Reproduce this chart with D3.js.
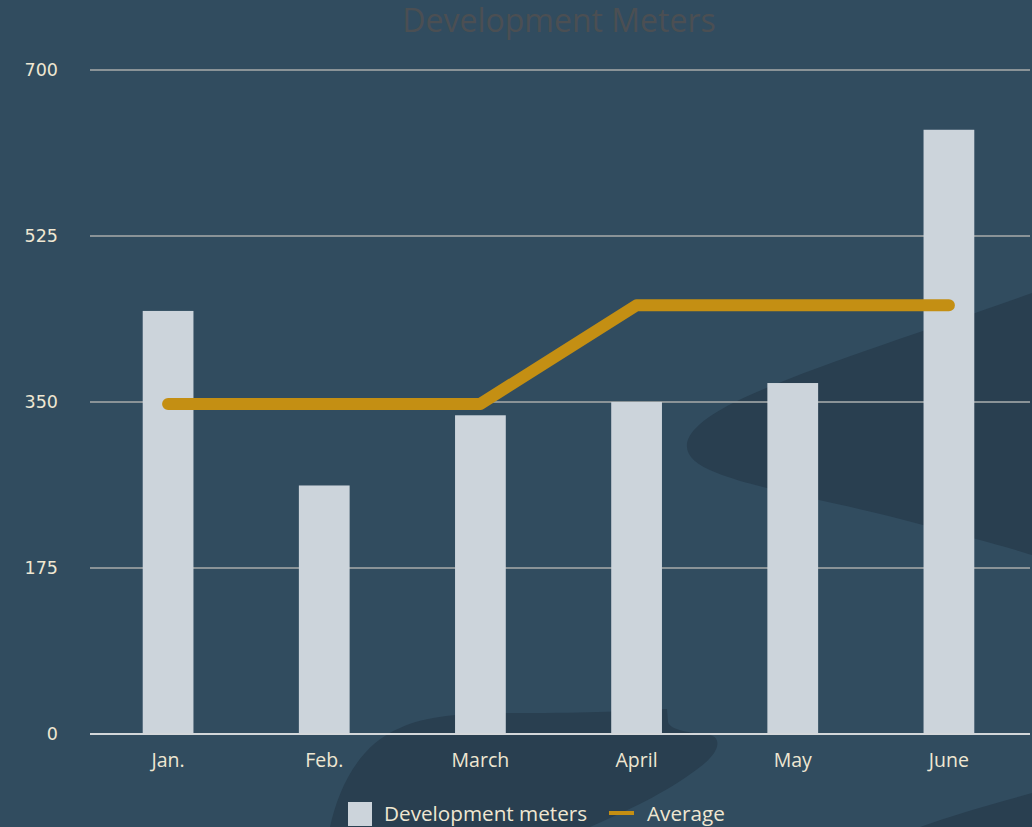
<!DOCTYPE html>
<html>
<head>
<meta charset="utf-8">
<script src="https://cdn.jsdelivr.net/npm/d3@7"></script>
<style>
  html, body { margin: 0; padding: 0; background: #314c5f; overflow: hidden; }
  svg { display: block; font-family: "Open Sans", sans-serif; }
</style>
</head>
<body>
<script>
const w = 1032
const h = 827

const months = ["Jan.", "Feb.", "March", "April", "May", "June"]
const meters = [446, 262, 336, 350, 370, 637]
const average = [348, 348, 348, 452, 452, 452]
const yTicks = [0, 175, 350, 525, 700]

const svg = d3.select("body").append("svg")
  .attr("width", w).attr("height", h)

svg.append("rect").attr("width", w).attr("height", h).attr("fill", "#314c5f")

// background decoration
const deco = svg.append("g").attr("fill", "#293f50")
deco.append("path")
  .attr("d", "M1032,293 C930,330 800,370 733,403 C680,430 670,455 717,473 C760,490 830,500 923,525 C980,540 1010,548 1032,555 Z")
deco.append("path")
  .attr("d", "M330,827 C338,790 358,745 400,728 C430,714 470,713 533,713 C600,713 640,710 667,709 L668,722 C670,730 690,733 710,735 C722,738 720,752 700,767 C670,790 640,805 590,827 Z")
deco.append("path")
  .attr("d", "M1032,793 C985,806 950,816 920,827 L1032,827 Z")

const x = d3.scaleBand().domain(months).range([90, 1027]).padding(0)
const y = d3.scaleLinear().domain([0, 700]).range([734, 70])
const cx = d => x(d) + x.bandwidth() / 2
const barW = x.bandwidth() * 0.325

// gridlines
svg.append("g").selectAll("line")
  .data(yTicks.filter(d => d > 0))
  .enter().append("line")
  .attr("x1", 90).attr("x2", 1030)
  .attr("y1", d => y(d)).attr("y2", d => y(d))
  .attr("stroke", "#8a9397").attr("stroke-width", 2)

// y labels
svg.append("g").selectAll("text")
  .data(yTicks)
  .enter().append("text")
  .text(d => d)
  .attr("x", 58).attr("y", d => y(d))
  .attr("dy", "0.35em")
  .attr("text-anchor", "end")
  .attr("font-family", "DejaVu Sans, sans-serif")
  .attr("font-size", "17.5px")
  .attr("fill", "#efe7d2")

// bars
svg.append("g").selectAll("rect")
  .data(meters)
  .enter().append("rect")
  .attr("x", (d, i) => cx(months[i]) - barW / 2)
  .attr("y", d => y(d))
  .attr("width", barW)
  .attr("height", d => y(0) - y(d))
  .attr("fill", "#ccd4db")

// baseline
svg.append("line")
  .attr("x1", 90).attr("x2", 1030)
  .attr("y1", y(0)).attr("y2", y(0))
  .attr("stroke", "#d3d7da").attr("stroke-width", 2)

// x labels
svg.append("g").selectAll("text")
  .data(months)
  .enter().append("text")
  .text(d => d)
  .attr("x", d => cx(d)).attr("y", 767)
  .attr("text-anchor", "middle")
  .attr("font-size", "19.5px")
  .attr("fill", "#efe7d2")

// average line
const lineFun = d3.line()
  .x((d, i) => cx(months[i]))
  .y(d => y(d))

svg.append("path")
  .attr("d", lineFun(average))
  .attr("fill", "none")
  .attr("stroke", "#c48f13")
  .attr("stroke-width", 12)
  .attr("stroke-linecap", "round")
  .attr("stroke-linejoin", "round")

// title
svg.append("text")
  .text("Development Meters")
  .attr("x", 559).attr("y", 32)
  .attr("text-anchor", "middle")
  .attr("font-size", "32px")
  .attr("fill", "#4b4f53")

// legend
const lg = svg.append("g")
lg.append("rect").attr("x", 348).attr("y", 802).attr("width", 24).attr("height", 24).attr("fill", "#ccd4db")
lg.append("text").text("Development meters")
  .attr("x", 384).attr("y", 821).attr("font-size", "20.7px").attr("fill", "#efe7d2")
lg.append("line").attr("x1", 609).attr("x2", 634).attr("y1", 813).attr("y2", 813)
  .attr("stroke", "#c48f13").attr("stroke-width", 4)
lg.append("text").text("Average")
  .attr("x", 647).attr("y", 821).attr("font-size", "20.7px").attr("fill", "#efe7d2")
</script>
</body>
</html>
